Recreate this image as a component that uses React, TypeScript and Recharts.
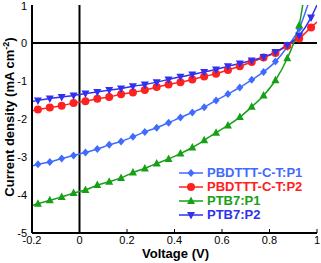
import { LineChart, Line, XAxis, YAxis, ReferenceLine, Legend } from 'recharts'

// voltage sweep (V); first/last points only extend the curves to the frame
const volts = [
  -0.2, -0.175, -0.125, -0.075, -0.025, 0.025, 0.075, 0.125, 0.175, 0.225, 0.275, 0.325, 0.375,
  0.425, 0.475, 0.525, 0.575, 0.625, 0.675, 0.725, 0.775, 0.825, 0.875, 0.925, 0.975, 1.0,
]

// current density (mA cm-2)
const pbdtttP1 = [
  -3.24, -3.19, -3.13, -3.04, -2.96, -2.88, -2.79, -2.68, -2.59, -2.47, -2.34, -2.23, -2.1,
  -1.96, -1.83, -1.69, -1.51, -1.34, -1.17, -0.97, -0.76, -0.49, -0.1, 0.38, 1.25, 1.7,
]
const pbdtttP2 = [
  -1.78, -1.75, -1.7, -1.65, -1.58, -1.53, -1.47, -1.42, -1.35, -1.3, -1.24, -1.16, -1.09,
  -1.03, -0.96, -0.88, -0.81, -0.71, -0.61, -0.5, -0.38, -0.26, -0.07, 0.12, 0.41, 0.55,
]
const ptb7P1 = [
  -4.28, -4.23, -4.14, -4.05, -3.95, -3.87, -3.74, -3.65, -3.55, -3.41, -3.3, -3.17, -3.05,
  -2.91, -2.75, -2.56, -2.36, -2.17, -1.95, -1.68, -1.38, -0.98, -0.4, 0.47, 2.5, 3.5,
]
const ptb7P2 = [
  -1.54, -1.51, -1.46, -1.42, -1.38, -1.33, -1.29, -1.24, -1.2, -1.14, -1.09, -1.03, -0.96,
  -0.89, -0.83, -0.76, -0.7, -0.61, -0.54, -0.46, -0.37, -0.24, -0.05, 0.2, 0.67, 1.0,
]

const xTicks = [-0.2, 0, 0.2, 0.4, 0.6, 0.8, 1]
const yTicks = [-5, -4, -3, -2, -1, 0, 1]

const data = volts.map((v, i) => ({
  v,
  p1: pbdtttP1[i],
  p2: pbdtttP2[i],
  t1: ptb7P1[i],
  t2: ptb7P2[i],
}))

type Shape = 'diamond' | 'circle' | 'up' | 'down'

const series: { key: string; name: string; color: string; shape: Shape }[] = [
  { key: 'p1', name: 'PBDTTT-C-T:P1', color: '#3f6bff', shape: 'diamond' },
  { key: 'p2', name: 'PBDTTT-C-T:P2', color: '#ff2020', shape: 'circle' },
  { key: 't1', name: 'PTB7:P1', color: '#16a016', shape: 'up' },
  { key: 't2', name: 'PTB7:P2', color: '#3030f0', shape: 'down' },
]

const FONT = '"Liberation Sans", Arial, sans-serif'

function markerShape(shape: Shape, cx: number, cy: number, color: string) {
  if (shape === 'circle') return <circle cx={cx} cy={cy} r={4} fill={color} />
  if (shape === 'diamond')
    return <polygon points={`${cx},${cy - 4} ${cx + 3.5},${cy} ${cx},${cy + 4} ${cx - 3.5},${cy}`} fill={color} />
  if (shape === 'up')
    return <polygon points={`${cx},${cy - 4.5} ${cx + 4},${cy + 3} ${cx - 4},${cy + 3}`} fill={color} />
  return <polygon points={`${cx},${cy + 4.5} ${cx + 4},${cy - 3} ${cx - 4},${cy - 3}`} fill={color} />
}

function makeDot(shape: Shape, color: string) {
  return (props: any) => {
    const { cx, cy, index } = props
    // no marker on the two padding points
    if (index === 0 || index === volts.length - 1 || cx == null || cy == null) return <g key={index} />
    return <g key={index}>{markerShape(shape, cx, cy, color)}</g>
  }
}

function LegendBox() {
  return (
    <div style={{ fontFamily: FONT }}>
      {series.map((s) => (
        <div key={s.key} style={{ display: 'flex', alignItems: 'center', height: 14 }}>
          <svg width={26} height={14}>
            <line x1={1} x2={25} y1={7} y2={7} stroke={s.color} strokeWidth={1.5} />
            {markerShape(s.shape, 13, 7, s.color)}
          </svg>
          <span style={{ marginLeft: 3, color: s.color, fontWeight: 'bold', fontSize: 13, lineHeight: '14px' }}>
            {s.name}
          </span>
        </div>
      ))}
    </div>
  )
}

function YTitle(props: any) {
  const vb = props.viewBox || { x: 0, y: 0, width: 0, height: 0 }
  const x = vb.x + 14
  const y = vb.y + vb.height / 2 - 2
  return (
    <text
      x={x}
      y={y}
      transform={`rotate(-90 ${x} ${y})`}
      textAnchor="middle"
      fontFamily={FONT}
      fontWeight="bold"
      fontSize={13}
      fill="#000"
    >
      Current density (mA cm
      <tspan dy={-5} fontSize={9}>-2</tspan>
      <tspan dy={5}>)</tspan>
    </text>
  )
}

function XTitle(props: any) {
  const vb = props.viewBox || { x: 0, y: 0, width: 0, height: 0 }
  return (
    <text
      x={vb.x + vb.width / 2 + 1}
      y={vb.y + 25}
      textAnchor="middle"
      fontFamily={FONT}
      fontWeight="bold"
      fontSize={13}
      fill="#000"
    >
      Voltage (V)
    </text>
  )
}

const axisLine = { stroke: '#000', strokeWidth: 2 }
const tickStyle = { fontSize: 11, fill: '#000', fontFamily: FONT }
const noLabel = () => <g />

export default function App() {
  return (
    <div style={{ position: 'absolute', left: 0, top: 0, background: '#fff' }}>
      <LineChart width={321} height={263} data={data} margin={{ top: 5, right: 4, bottom: 0, left: 0 }}>
        <XAxis
          dataKey="v"
          type="number"
          domain={[-0.2, 1]}
          ticks={xTicks}
          allowDataOverflow
          height={30}
          axisLine={axisLine}
          tickLine={{ stroke: '#000' }}
          tickSize={-4}
          tickMargin={7}
          tick={tickStyle}
          label={<XTitle />}
        />
        <XAxis
          xAxisId="top"
          orientation="top"
          type="number"
          domain={[-0.2, 1]}
          ticks={xTicks}
          allowDataOverflow
          height={0}
          mirror
          tick={noLabel}
          tickSize={4}
          axisLine={axisLine}
          tickLine={{ stroke: '#000' }}
        />
        <YAxis
          type="number"
          domain={[-5, 1]}
          ticks={yTicks}
          allowDataOverflow
          width={32}
          axisLine={axisLine}
          tickLine={false}
          tickSize={0}
          tickMargin={5}
          tick={tickStyle}
          label={<YTitle />}
        />
        <YAxis
          yAxisId="right"
          orientation="right"
          type="number"
          domain={[-5, 1]}
          ticks={yTicks}
          allowDataOverflow
          width={0}
          mirror
          tick={noLabel}
          tickSize={4}
          axisLine={axisLine}
          tickLine={{ stroke: '#000' }}
        />
        <ReferenceLine x={0} stroke="#000" strokeWidth={2} />
        <ReferenceLine y={0} stroke="#000" strokeWidth={2} />
        {series.map((s) => (
          <Line
            key={s.key}
            type="monotone"
            dataKey={s.key}
            name={s.name}
            stroke={s.color}
            strokeWidth={1.5}
            dot={makeDot(s.shape, s.color)}
            activeDot={false}
            isAnimationActive={false}
          />
        ))}
        <Legend
          layout="vertical"
          align="center"
          verticalAlign="middle"
          width={140}
          wrapperStyle={{ left: 178, top: 166 }}
          content={<LegendBox />}
        />
      </LineChart>
    </div>
  )
}
